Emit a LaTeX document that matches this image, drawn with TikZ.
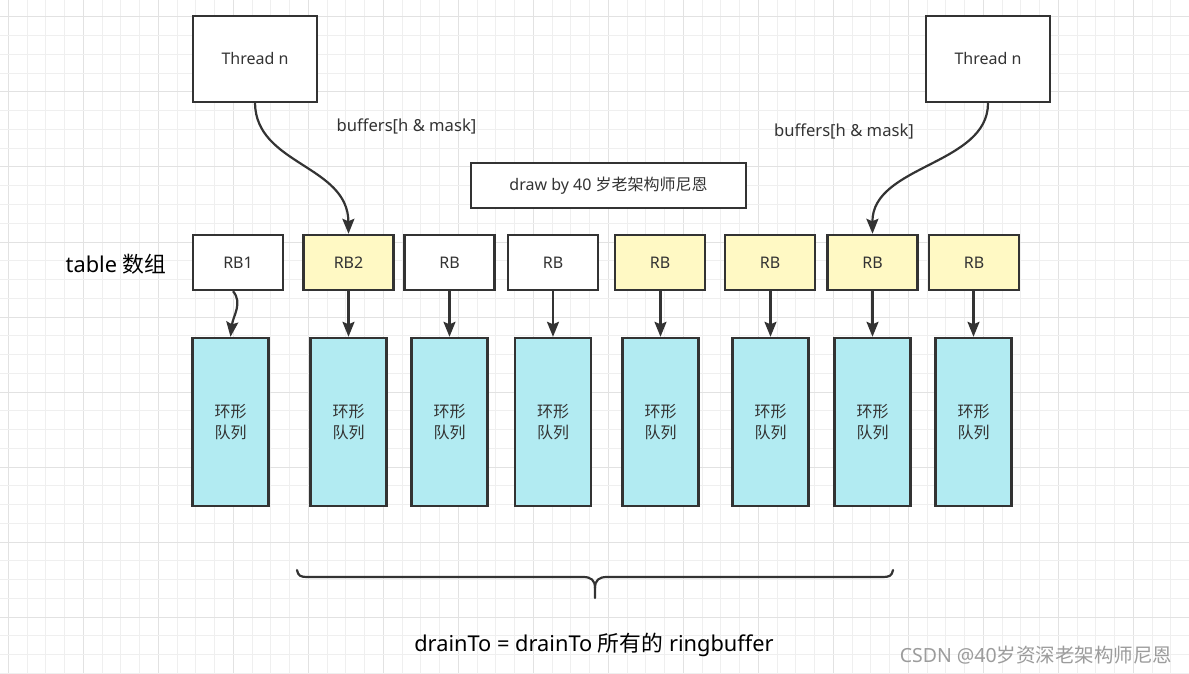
\documentclass[tikz,border=0pt]{standalone}
\usepackage{fontspec}
\setmainfont{Noto Sans}
\newfontfamily\cjk{Noto Sans CJK SC}
\usetikzlibrary{arrows.meta}
\definecolor{ink}{HTML}{333333}
\definecolor{rbyellow}{HTML}{FFF9C4}
\definecolor{qcyan}{HTML}{B2EBF2}
\definecolor{gridminor}{HTML}{EFEFEF}
\definecolor{gridmajor}{HTML}{E2E2E2}
\definecolor{wm}{HTML}{9C9C9C}
\begin{document}
\begin{tikzpicture}[x=1pt,y=-1pt,
  box/.style={draw=ink, line width=2.4pt, fill=white, text=ink, inner sep=0pt, font=\fontsize{16}{20}\selectfont},
  thread/.style={box, minimum width=124pt, minimum height=86pt},
  rbw/.style={box, minimum width=90pt, minimum height=55pt},
  rby/.style={rbw, fill=rbyellow},
  queue/.style={box, fill=qcyan, minimum width=76pt, minimum height=168pt, align=center, font=\fontsize{16}{21}\selectfont\cjk},
  conn/.style={draw=ink, line width=2.2pt, -{Stealth[length=15pt,width=12pt,inset=2.5pt]}},
  lbl/.style={text=ink, inner sep=0pt, font=\fontsize{16.6}{20}\selectfont},
  big/.style={text=black, inner sep=0pt, font=\fontsize{21.8}{25}\selectfont},
]
\useasboundingbox (0,0) rectangle (1189,674);
\fill[white] (0,0) rectangle (1189,674);
% grid
\foreach \i in {0,...,63}{
  \pgfmathtruncatemacro\m{mod(\i,4)}
  \ifnum\m=0 \draw[gridmajor, line width=1pt] ({8.3+18.75*\i},0) -- ({8.3+18.75*\i},674);
  \else \draw[gridminor, line width=1pt] ({8.3+18.75*\i},0) -- ({8.3+18.75*\i},674);
  \fi
}
\foreach \j in {0,...,36}{
  \pgfmathtruncatemacro\m{mod(\j,4)}
  \ifnum\m=1 \draw[gridmajor, line width=1pt] (0,{-1.75+18.75*\j}) -- (1189,{-1.75+18.75*\j});
  \else \draw[gridminor, line width=1pt] (0,{-1.75+18.75*\j}) -- (1189,{-1.75+18.75*\j});
  \fi
}

% threads
\node[thread] (t1) at (255,59) {Thread n};
\node[thread] (t2) at (988,59) {Thread n};

% draw-by box
\node[box, minimum width=275pt, minimum height=45pt] (note) at (608.5,185.5) {draw by 40 {\cjk 岁老架构师尼恩}};

% RB row
\node[rbw] (rb1) at (238,262.5) {RB1};
\node[rby] (rb2) at (348.5,262.5) {RB2};
\node[rbw] (rb3) at (449.5,262.5) {RB};
\node[rbw] (rb4) at (553,262.5) {RB};
\node[rby] (rb5) at (660,262.5) {RB};
\node[rby] (rb6) at (770,262.5) {RB};
\node[rby] (rb7) at (872.5,262.5) {RB};
\node[rby] (rb8) at (974,262.5) {RB};

% queues
\node[queue] (q1) at (230.5,422) {环形\\队列};
\node[queue] (q2) at (348.5,422) {环形\\队列};
\node[queue] (q3) at (449.5,422) {环形\\队列};
\node[queue] (q4) at (553,422) {环形\\队列};
\node[queue] (q5) at (660.5,422) {环形\\队列};
\node[queue] (q6) at (770.5,422) {环形\\队列};
\node[queue] (q7) at (872.5,422) {环形\\队列};
\node[queue] (q8) at (973.5,422) {环形\\队列};

% connectors
\draw[conn] (t1.south) .. controls (256,165) and (348,165) .. (rb2.north);
\draw[conn] (t2.south) .. controls (988,165) and (872,165) .. (rb7.north);
\draw[conn] ([xshift=-5pt]rb1.south) .. controls (243,303) and (233,316) .. (q1.north);
\draw[conn] (rb2.south) -- (q2.north);
\draw[conn] (rb3.south) -- (q3.north);
\draw[conn] (rb4.south) -- (q4.north);
\draw[conn] (rb5.south -| q5.north) -- (q5.north);
\draw[conn] (rb6.south -| q6.north) -- (q6.north);
\draw[conn] (rb7.south) -- (q7.north);
\draw[conn] (rb8.south -| q8.north) -- (q8.north);

% labels
\node[lbl] (bl) at (406.5,126) {buffers[h \& mask]};
\node[lbl] (br) at (844,131) {buffers[h \& mask]};
\node[big] (tbl) at (116,264) {table {\cjk 数组}};
\node[big] (drain) at (594,645) {drainTo = drainTo {\cjk 所有的} ringbuffer};

% brace
\draw[ink, line width=2.2pt, line cap=round, line join=round]
  (297,570) .. controls (298,576) and (301,577) .. (307,577) -- (583,577)
  .. controls (591,577) and (595,580) .. (595,588) -- (595,598);
\draw[ink, line width=2.2pt, line cap=round, line join=round]
  (893,570) .. controls (892,576) and (889,577) .. (883,577) -- (607,577)
  .. controls (599,577) and (595,580) .. (595,588);

% watermark
\node[text=wm, inner sep=0pt, font=\fontsize{19.5}{22}\selectfont] (wmk) at (1036,655) {CSDN @40{\cjk 岁资深老架构师尼恩}};
\end{tikzpicture}
\end{document}
